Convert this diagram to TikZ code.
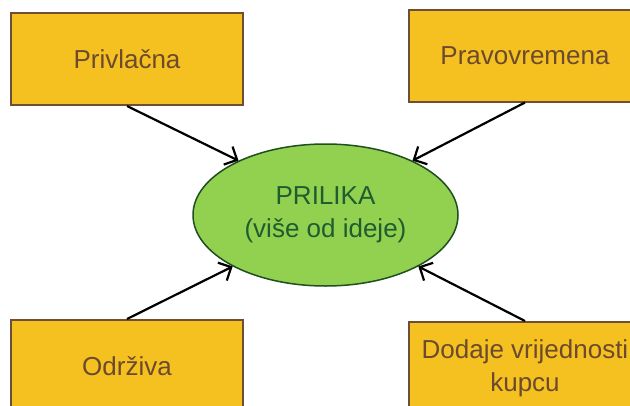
\documentclass[tikz,border=0pt]{standalone}
\usepackage{fontspec}
\setmainfont{Liberation Sans}
\usetikzlibrary{arrows.meta,shapes.geometric}
\definecolor{boxfill}{HTML}{F5C120}
\definecolor{boxline}{HTML}{6E4E36}
\definecolor{boxtext}{HTML}{6B4A2E}
\definecolor{ellfill}{HTML}{92D050}
\definecolor{ellline}{HTML}{1F4F1F}
\definecolor{elltext}{HTML}{1F5C30}
\begin{document}
\begin{tikzpicture}[x=1pt,y=-1pt,
  boxnode/.style={draw=boxline,fill=boxfill,line width=2pt,minimum width=232pt,minimum height=92pt,inner sep=0pt,
    text=boxtext,font=\fontsize{26}{33}\selectfont,align=center},
  ellnode/.style={ellipse,draw=ellline,fill=ellfill,line width=1.5pt,minimum width=265pt,minimum height=142pt,inner sep=0pt,
    text=elltext,font=\fontsize{26}{33}\selectfont,align=center},
  conn/.style={line width=2.2pt,-{Straight Barb[length=10pt,width=20pt,line width=2.2pt]}}]
\clip (0,0) rectangle (630,405);
\node[boxnode] (tl) at (127,59) {Privlačna};
\node[boxnode] (tr) at (525,55.5) {Pravovremena};
\node[boxnode] (bl) at (127,366) {Održiva};
\node[boxnode] (br) at (525,368) {Dodaje vrijednosti\\kupcu};
\node[ellnode] (ell) at (325.5,215) {PRILIKA\\(više od ideje)};
\draw[conn] (tl.south) -- (ell.148);
\draw[conn] (tr.south) -- (ell.32);
\draw[conn] (bl.north) -- (ell.209);
\draw[conn] (br.north) -- (ell.331);
\end{tikzpicture}
\end{document}
